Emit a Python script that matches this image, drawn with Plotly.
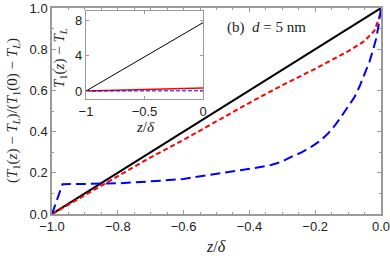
import plotly.graph_objects as go

# main panel data (normalized)
black_x = [-1.0, 0.0]
black_y = [0.0, 1.0]

red_x = [-1.0, -0.9, -0.8, -0.7, -0.6, -0.5, -0.4, -0.3, -0.2, -0.1, -0.05, -0.02, -0.005, 0.0]
red_y = [0.0, 0.092, 0.185, 0.275, 0.36, 0.45, 0.54, 0.625, 0.705, 0.79, 0.84, 0.89, 0.955, 1.0]

blue_x = [-1.0, -0.968, -0.9, -0.8, -0.73, -0.6, -0.53, -0.45, -0.395, -0.334, -0.3, -0.273, -0.24,
          -0.212, -0.185, -0.161, -0.14, -0.121, -0.1, -0.08, -0.065, -0.049, -0.035, -0.024,
          -0.015, -0.008, -0.003, 0.0]
blue_y = [0.0, 0.145, 0.146, 0.149, 0.155, 0.17, 0.188, 0.205, 0.22, 0.238, 0.255, 0.277, 0.3,
          0.326, 0.355, 0.391, 0.43, 0.472, 0.52, 0.569, 0.62, 0.683, 0.74, 0.797,
          0.85, 0.91, 0.96, 1.0]

# inset data (unnormalized)
inset_black_x = [-1.0, 0.0]
inset_black_y = [0.0, 7.7]
inset_red_x = [-1.0, -0.5, 0.0]
inset_red_y = [0.0, 0.16, 0.33]
inset_blue_x = [-1.0, -0.5, 0.0]
inset_blue_y = [0.0, 0.01, 0.03]

main_xticks = [-1.0, -0.8, -0.6, -0.4, -0.2, 0.0]
main_yticks = [0.0, 0.2, 0.4, 0.6, 0.8, 1.0]
inset_xticks = [-1, -0.5, 0]
inset_xticklabels = ["−1", "−0.5", "0"]
inset_yticks = [0, 4, 8]

main_ytitle = "(<i>T</i><sub>1</sub>(<i>z</i>) − <i>T<sub>L</sub></i>)/(<i>T</i><sub>1</sub>(0) − <i>T<sub>L</sub></i>)"
inset_ytitle = "<i>T</i><sub>1</sub>(<i>z</i>) − <i>T<sub>L</sub></i>"
xtitle = "<i>z</i>/<i>δ</i>"
label_text = "(b)  <i>d</i> = 5 nm"

FRAME = "#9a9a9a"
TXT = "#222"
SANS = "Liberation Sans, Arial, sans-serif"
SERIF = "Liberation Serif, Times New Roman, serif"

W, H = 390, 261
L, R, T, B = 52, 9, 8, 47
PW = W - L - R
PH = H - T - B


def px(xp):
    return (xp - L) / PW


def py(yp):
    return (T + PH - yp) / PH


def note(text, xp, yp, size, angle=0):
    return dict(text=text, x=px(xp), y=py(yp), xref="paper", yref="paper",
                xanchor="center", yanchor="middle", textangle=angle,
                showarrow=False, font=dict(family=SERIF, size=size, color=TXT))


fig = go.Figure()
fig.add_trace(go.Scatter(x=black_x, y=black_y, mode="lines", line=dict(color="black", width=2)))
fig.add_trace(go.Scatter(x=red_x, y=red_y, mode="lines", line=dict(color="#ff0000", width=2, dash="5px,3px")))
fig.add_trace(go.Scatter(x=blue_x, y=blue_y, mode="lines", line=dict(color="#0000ff", width=2, dash="10px,5px")))

fig.add_trace(go.Scatter(x=inset_black_x, y=inset_black_y, mode="lines", xaxis="x2", yaxis="y2",
                         line=dict(color="black", width=1)))
fig.add_trace(go.Scatter(x=inset_red_x, y=inset_red_y, mode="lines", xaxis="x2", yaxis="y2",
                         line=dict(color="#ff0000", width=1.5)))
fig.add_trace(go.Scatter(x=inset_blue_x, y=inset_blue_y, mode="lines", xaxis="x2", yaxis="y2",
                         line=dict(color="#0000ff", width=1, dash="4px,2px")))

common = dict(showgrid=False, zeroline=False, showline=True, linecolor=FRAME,
              mirror="ticks", ticks="inside", tickcolor=FRAME, automargin=False,
              ticklabeloverflow="allow", tickfont=dict(size=13, color=TXT))

fig.update_layout(
    width=W, height=H,
    margin=dict(l=L, r=R, t=T, b=B, autoexpand=False),
    paper_bgcolor="white", plot_bgcolor="white",
    showlegend=False,
    font=dict(family=SANS, size=13, color=TXT),
    xaxis=dict(domain=[0, 1], range=[-1.0, 0.0], tickvals=main_xticks, tickformat=".1f",
               linewidth=1.5, ticklen=4,
               minor=dict(dtick=0.05, ticks="inside", ticklen=2, tickcolor=FRAME), **common),
    yaxis=dict(domain=[0, 1], range=[0.0, 1.0], tickvals=main_yticks, tickformat=".1f",
               linewidth=1.5, ticklen=4,
               minor=dict(dtick=0.1, ticks="inside", ticklen=2, tickcolor=FRAME), **common),
    xaxis2=dict(domain=[(86 - L) / PW, (203 - L) / PW], range=[-1.0, 0.0], anchor="y2",
                tickvals=inset_xticks, ticktext=inset_xticklabels, linewidth=1.2, ticklen=3, **common),
    yaxis2=dict(domain=[(T + PH - 99) / PH, (T + PH - 10.7) / PH], range=[-0.9, 9.05], anchor="x2",
                tickvals=inset_yticks, linewidth=1.2, ticklen=3, **common),
    annotations=[
        note(label_text, 266, 27.5, 15),
        note(xtitle, 216, 246, 16),
        note(main_ytitle, 13, 111, 15, -90),
        note(xtitle, 145, 127, 15),
        note(inset_ytitle, 60, 58, 15, -90),
    ],
)

fig.write_html("out.html", config={"displayModeBar": False},
               post_script="document.body.style.margin='0';document.body.style.padding='0';")
